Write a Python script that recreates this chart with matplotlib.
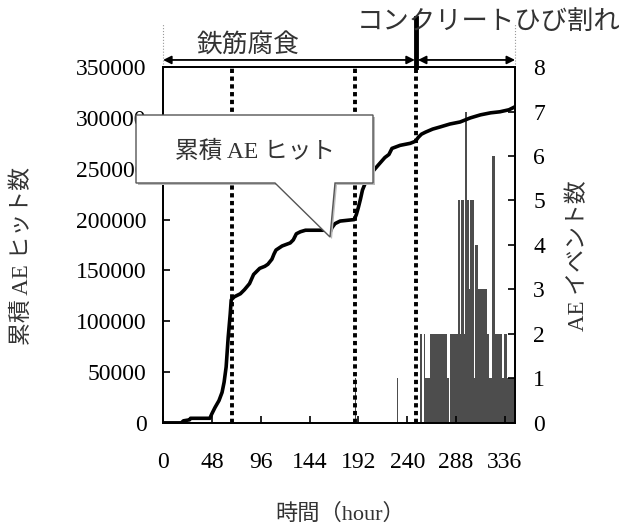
import matplotlib
matplotlib.use("Agg")
import matplotlib.pyplot as plt
import matplotlib.transforms as mtransforms
from matplotlib.patches import Polygon
import numpy as np

plt.rcParams['font.family'] = ['Liberation Serif', 'Noto Sans CJK JP']

# cumulative AE hits (hour, count)
hit_hours = [0, 18, 20, 26, 27, 46, 48, 51, 55, 58, 60, 62, 64, 66, 67, 70, 76, 80,
             85, 89, 95, 100, 103, 107, 109, 111, 117, 125, 128, 131, 135, 140, 160,
             164, 166, 169, 174, 188, 190, 192, 194, 196, 200, 205, 211, 218, 222,
             225, 233, 243, 248, 251, 254, 258, 265, 272, 282, 292, 302, 312, 322,
             331, 340, 346]
hit_counts = [0, 0, 2000, 3000, 4500, 4500, 9000, 15000, 22000, 30000, 40000, 55000,
              84000, 107000, 121000, 124000, 127000, 131000, 137000, 146000, 152000,
              154000, 156000, 161000, 166000, 170000, 174000, 177000, 180000, 186000,
              188000, 189500, 189500, 187000, 192000, 196000, 198500, 200000, 205000,
              212000, 220000, 229000, 239000, 246000, 253000, 261000, 264000, 270000,
              273000, 275000, 277000, 281000, 284000, 286000, 289000, 291000, 294000,
              296000, 300000, 303000, 305000, 306000, 308000, 311000]

# AE events per hour
ev_hours = [189, 230,
            253, 254, 256, 257, 258, 259, 260, 261, 262, 263, 264, 265, 266, 267, 268,
            269, 270, 271, 272, 273, 274, 275, 276, 277, 278, 279, 280, 282, 283, 284,
            285, 286, 287, 288, 289, 290, 291, 292, 293, 294, 295, 296, 297, 298, 299,
            300, 301, 302, 303, 304, 305, 306, 307, 308, 309, 310, 311, 312, 313, 314,
            315, 316, 317, 318, 319, 320, 321, 322, 323, 324, 325, 326, 327, 328, 329,
            330, 331, 332, 333, 334, 335, 336, 337, 338, 339, 340, 341, 342, 343, 344]
ev_counts = [1, 1,
             2, 2, 2, 1, 1, 1, 1, 1, 2, 2, 2, 2, 2, 2, 2,
             2, 2, 2, 2, 2, 2, 2, 2, 2, 2, 1, 1, 2, 2, 2,
             2, 2, 2, 2, 2, 5, 5, 2, 5, 5, 5, 2, 7, 7, 5,
             5, 3, 5, 5, 5, 5, 1, 4, 4, 4, 3, 3, 3, 3, 3,
             3, 3, 3, 2, 2, 1, 1, 1, 6, 6, 6, 2, 2, 2, 2,
             2, 2, 2, 1, 1, 2, 2, 2, 1, 1, 1, 1, 1, 1, 1]

# phase boundaries (hour)
event_lines = [68, 189, 249]
x_ticks = [0, 48, 96, 144, 192, 240, 288, 336]

fig = plt.figure(figsize=(6.32, 5.24), dpi=100)
ax = fig.add_axes([0.258, 0.193, 0.557, 0.679])
ax2 = ax.twinx()

ax2.bar(ev_hours, ev_counts, width=1.0, color='#4d4d4d', edgecolor='none', align='edge')
ax.plot(hit_hours, hit_counts, color='black', lw=2.6, solid_joinstyle='round')
for h in event_lines:
    ax.axvline(h, color='black', lw=2.8, dashes=(1.1, 0.9))

ax.set_zorder(ax2.get_zorder() + 1)
ax.patch.set_visible(False)

ax.set_xlim(0, 346)
ax.set_ylim(0, 350000)
ax2.set_ylim(0, 8)
ax.set_xticks(x_ticks)
ax.set_yticks(np.arange(0, 350001, 50000))
ax2.set_yticks(range(0, 9))

for a in (ax, ax2):
    a.tick_params(direction='in', length=5, width=1.2, labelsize=17)
    for s in a.spines.values():
        s.set_linewidth(1.3)
ax.tick_params(axis='x', pad=21)
ax.tick_params(axis='y', pad=12)
ax2.tick_params(axis='y', pad=13)

ax.set_ylabel('累積 AE ヒット数', fontsize=16.5, color='#333333')
ax.yaxis.set_label_coords(-0.37, 0.47)
ax2.set_ylabel('AE イベント数', fontsize=16.5, color='#333333')
ax2.yaxis.set_label_coords(1.15, 0.47)
ax.set_xlabel('時間（hour）', fontsize=16, color='#333333')
ax.xaxis.set_label_coords(0.503, -0.226)

# phase annotations above the plot
tr = mtransforms.blended_transform_factory(ax.transData, ax.transAxes)
arrow = dict(arrowstyle='<|-|>', color='black', lw=1.3, mutation_scale=12, shrinkA=0, shrinkB=0)
ax.annotate('', xy=(0, 1.02), xytext=(event_lines[2] - 1.5, 1.02), xycoords=tr, textcoords=tr,
            arrowprops=arrow, annotation_clip=False)
ax.annotate('', xy=(event_lines[2] + 1.5, 1.02), xytext=(346, 1.02), xycoords=tr, textcoords=tr,
            arrowprops=arrow, annotation_clip=False)
ax.plot([event_lines[2], event_lines[2]], [1.0, 1.138], transform=tr, color='black', lw=3.5,
        clip_on=False)
for x in (0, 346):
    ax.plot([x, x], [1.01, 1.125], transform=tr, color='#999999', lw=0.8, ls=':', clip_on=False)
ax.text(84, 1.062, '鉄筋腐食', transform=tr, fontsize=18.5, ha='center', va='center',
        color='#333333')
ax.text(320, 1.126, 'コンクリートひび割れ', transform=tr, fontsize=19, ha='center', va='center',
        color='#333333')

# callout box "累積 AE ヒット"
W, H = 632.0, 524.0
box_px = [(136, 115), (373, 115), (373, 183), (335, 183), (330, 237), (275, 183), (136, 183)]
shadow = Polygon([((x + 2) / W, 1 - (y + 2) / H) for x, y in box_px], closed=True,
                 transform=fig.transFigure, facecolor='#bbbbbb', edgecolor='none', zorder=5)
callout = Polygon([(x / W, 1 - y / H) for x, y in box_px], closed=True,
                  transform=fig.transFigure, facecolor='white', edgecolor='#555555', lw=1.0,
                  zorder=6)
fig.patches.extend([shadow, callout])
fig.text(255 / W, 1 - 152 / H, '累積 AE ヒット', fontsize=17, ha='center', va='center',
         color='#333333', zorder=7)

fig.savefig('out.png', dpi=100)
